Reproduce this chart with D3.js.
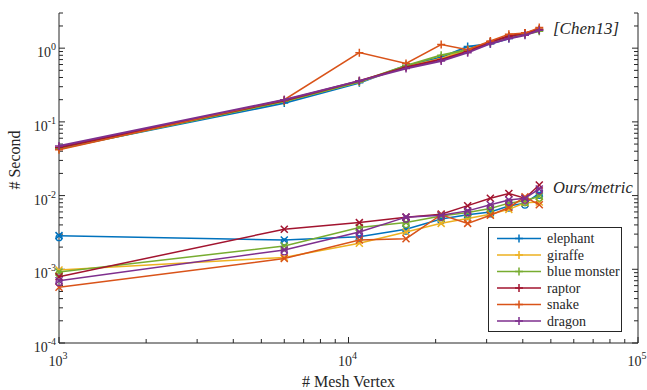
<!DOCTYPE html>
<html>
<head>
<meta charset="utf-8">
<script src="https://cdn.jsdelivr.net/npm/d3@7"></script>
<style>
  body { margin: 0; background: #fff; }
</style>
</head>
<body>
<svg></svg>
<script>
const size = {w: 647, h: 390};
const plot = {l: 59, r: 638, t: 13, b: 343};
const font = 'Liberation Serif';

// mesh vertex counts
const vertices = [1000, 6000, 10900, 15800, 20900, 25800, 30900, 35800, 40700, 45600];

const models = ['elephant', 'giraffe', 'blue monster', 'raptor', 'snake', 'dragon'];
const colors = ['#0072BD', '#EDB120', '#77AC30', '#A2142F', '#D95319', '#7E2F8E'];

// [Chen13] timings (seconds)
const chenElephant = [0.044, 0.18, 0.34, 0.58, 0.75, 1.05, 1.15, 1.35, 1.55, 1.75];
const chenGiraffe  = [0.045, 0.19, 0.35, 0.56, 0.72, 0.95, 1.2, 1.45, 1.6, 1.8];
const chenMonster  = [0.043, 0.19, 0.35, 0.58, 0.8, 0.95, 1.2, 1.45, 1.55, 1.7];
const chenRaptor   = [0.045, 0.195, 0.36, 0.55, 0.7, 0.9, 1.22, 1.45, 1.6, 1.8];
const chenSnake    = [0.042, 0.2, 0.87, 0.62, 1.12, 0.95, 1.25, 1.55, 1.6, 1.9];
const chenDragon   = [0.047, 0.2, 0.36, 0.53, 0.67, 0.87, 1.15, 1.35, 1.5, 1.75];

// Ours/metric timings (seconds)
const oursElephant = [2.86e-3, 2.5e-3, 2.76e-3, 3.5e-3, 4.8e-3, 5.5e-3, 6.0e-3, 7.2e-3, 7.9e-3, 1.07e-2];
const oursGiraffe  = [9.8e-4, 1.45e-3, 2.25e-3, 3.2e-3, 4.2e-3, 4.9e-3, 5.6e-3, 6.5e-3, 8.0e-3, 8.2e-3];
const oursMonster  = [9.2e-4, 2.07e-3, 3.7e-3, 4.3e-3, 5.3e-3, 5.9e-3, 6.7e-3, 7.9e-3, 8.5e-3, 9.8e-3];
const oursRaptor   = [7.9e-4, 3.5e-3, 4.3e-3, 5.1e-3, 5.6e-3, 7.3e-3, 9.2e-3, 1.07e-2, 9.2e-3, 1.39e-2];
const oursSnake    = [5.7e-4, 1.4e-3, 2.5e-3, 2.6e-3, 5.5e-3, 4.2e-3, 5.4e-3, 6.9e-3, 9.6e-3, 7.5e-3];
const oursDragon   = [7.0e-4, 1.83e-3, 3.2e-3, 5.1e-3, 5.4e-3, 6.2e-3, 7.5e-3, 8.7e-3, 9.2e-3, 1.23e-2];

const chenSeries = [chenElephant, chenGiraffe, chenMonster, chenRaptor, chenSnake, chenDragon];
const oursSeries = [oursElephant, oursGiraffe, oursMonster, oursRaptor, oursSnake, oursDragon];
const withCircles = [true, false, true, false, false, true];

const xTicks = [1e3, 1e4, 1e5];
const xTickExp = ['3', '4', '5'];
const yTicks = [1e-4, 1e-3, 1e-2, 1e-1, 1e0];
const yTickExp = ['-4', '-3', '-2', '-1', '0'];

const svg = d3.select('svg')
    .attr('width', size.w)
    .attr('height', size.h);

const x = d3.scaleLog().domain([1e3, 1e5]).range([plot.l, plot.r]);
const y = d3.scaleLog().domain([1e-4, 3]).range([plot.b, plot.t]);

const line = d3.line()
    .x((d, i) => x(vertices[i]))
    .y(d => y(d));

function label(px, py, size) {
    return svg.append('text')
        .attr('x', px).attr('y', py)
        .attr('font-family', font)
        .attr('fill', '#262626')
        .style('font-size', size + 'px');
}

// minor ticks
function minorTicks(lo, hi) {
    let out = [];
    for (let e = Math.floor(Math.log10(lo)); e <= Math.ceil(Math.log10(hi)); e++) {
        for (let m = 1; m < 10; m++) {
            let v = m * Math.pow(10, e);
            if (v >= lo * 0.999 && v <= hi * 1.001) out.push({v: v, major: m === 1});
        }
    }
    return out;
}

const axes = svg.append('g').attr('stroke', '#262626').attr('stroke-width', 1);

axes.append('path')
    .attr('fill', 'none')
    .attr('d', `M${plot.l},${plot.t}V${plot.b}H${plot.r}V${plot.t}`);

minorTicks(1e3, 1e5).forEach(t => {
    let len = t.major ? 6 : 4;
    axes.append('line')
        .attr('x1', x(t.v)).attr('x2', x(t.v))
        .attr('y1', plot.b).attr('y2', plot.b - len);
});
minorTicks(1e-4, 3).forEach(t => {
    let len = t.major ? 6 : 4;
    axes.append('line')
        .attr('x1', plot.l).attr('x2', plot.l + len)
        .attr('y1', y(t.v)).attr('y2', y(t.v));
    axes.append('line')
        .attr('x1', plot.r).attr('x2', plot.r - len)
        .attr('y1', y(t.v)).attr('y2', y(t.v));
});

// tick labels
xTicks.forEach((t, i) => {
    let tx = label(x(t) - 1, 366, 14).attr('text-anchor', 'middle');
    tx.append('tspan').text('10');
    tx.append('tspan').attr('dy', -7).style('font-size', '10px').text(xTickExp[i]);
});
yTicks.forEach((t, i) => {
    let tx = label(plot.l - 3, y(t) + 9, 14).attr('text-anchor', 'end');
    tx.append('tspan').text('10');
    tx.append('tspan').attr('dy', -7).style('font-size', '10px').text(yTickExp[i]);
});

label(x(1e4), 387, 16)
    .attr('text-anchor', 'middle')
    .text('# Mesh Vertex');

label(0, 0, 16)
    .attr('transform', 'translate(20,160) rotate(-90)')
    .attr('text-anchor', 'middle')
    .text('# Second');

// series
const plus = 'M-4,0H4M0,-4V4';
const cross = 'M-3.5,-3.5L3.5,3.5M-3.5,3.5L3.5,-3.5';

chenSeries.forEach((s, k) => {
    let g = svg.append('g').attr('stroke', colors[k]).attr('fill', 'none');
    g.append('path').attr('d', line(s)).attr('stroke-width', k === 4 ? 1.5 : 2);
    g.selectAll('path.m')
        .data(s)
        .enter()
        .append('path')
        .classed('m', true)
        .attr('stroke-width', 1.5)
        .attr('transform', (d, i) => `translate(${x(vertices[i])},${y(d)})`)
        .attr('d', plus);
});

oursSeries.forEach((s, k) => {
    let g = svg.append('g').attr('stroke', colors[k]).attr('fill', 'none');
    g.append('path').attr('d', line(s)).attr('stroke-width', 1.5);
    g.selectAll('path.m')
        .data(s)
        .enter()
        .append('path')
        .classed('m', true)
        .attr('stroke-width', 1.5)
        .attr('transform', (d, i) => `translate(${x(vertices[i])},${y(d)})`)
        .attr('d', cross);
    if (withCircles[k]) {
        g.selectAll('circle')
            .data(s)
            .enter()
            .append('circle')
            .attr('stroke-width', 1.2)
            .attr('cx', (d, i) => x(vertices[i]))
            .attr('cy', d => y(d) + 2)
            .attr('r', 3);
    }
});

// annotations
label(553, 34, 17).style('font-style', 'italic').text('[Chen13]');
label(553, 193, 16.5).style('font-style', 'italic').text('Ours/metric');

// legend
const legend = svg.append('g');
legend.append('rect')
    .attr('x', 488.5).attr('y', 227.5)
    .attr('width', 133).attr('height', 104)
    .attr('fill', '#fff')
    .attr('stroke', '#262626');
models.forEach((m, k) => {
    let cy = 238.5 + k * 16.5;
    legend.append('line')
        .attr('x1', 497).attr('x2', 541)
        .attr('y1', cy).attr('y2', cy)
        .attr('stroke', colors[k]).attr('stroke-width', 1.5);
    legend.append('path')
        .attr('transform', `translate(519,${cy})`)
        .attr('d', plus)
        .attr('stroke', colors[k]).attr('stroke-width', 1.5);
    label(547, cy + 4.5, 14).text(m);
});
</script>
</body>
</html>
